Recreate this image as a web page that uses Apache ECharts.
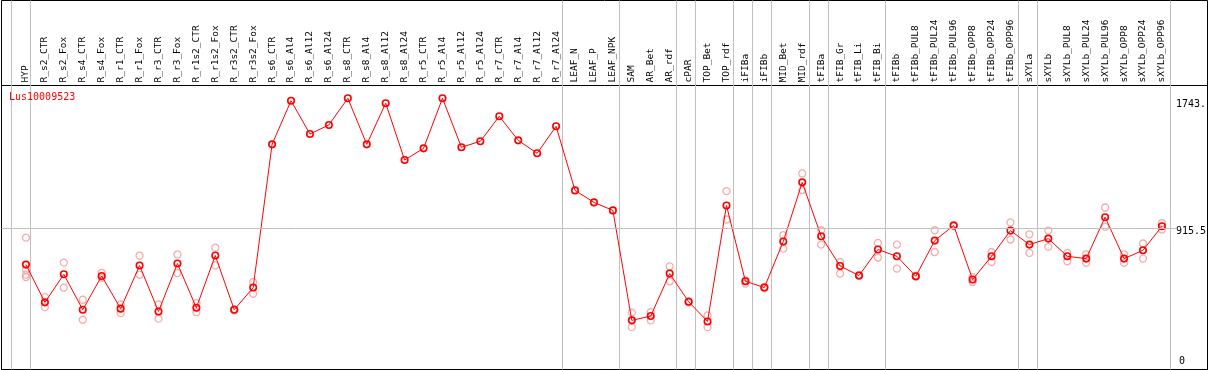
<!DOCTYPE html>
<html>
<head>
<meta charset="utf-8">
<title>Lus10009523</title>
<script src="https://cdn.jsdelivr.net/npm/echarts@6/dist/echarts.min.js"></script>
<style>
html,body{margin:0;padding:0;background:#fff;}
#chart{width:1209px;height:370px;}
</style>
</head>
<body>
<div id="chart"></div>
<script>
var geneName = 'Lus10009523';

var categories = ['HYP','R_s2_CTR','R_s2_Fox','R_s4_CTR','R_s4_Fox','R_r1_CTR','R_r1_Fox','R_r3_CTR','R_r3_Fox',
    'R_r1s2_CTR','R_r1s2_Fox','R_r3s2_CTR','R_r3s2_Fox','R_s6_CTR','R_s6_Al4','R_s6_Al12','R_s6_Al24',
    'R_s8_CTR','R_s8_Al4','R_s8_Al12','R_s8_Al24','R_r5_CTR','R_r5_Al4','R_r5_Al12','R_r5_Al24',
    'R_r7_CTR','R_r7_Al4','R_r7_Al12','R_r7_Al24','LEAF_N','LEAF_P','LEAF_NPK','SAM','AR_Bet','AR_rdf',
    'cPAR','TOP_Bet','TOP_rdf','iFIBa','iFIBb','MID_Bet','MID_rdf','tFIBa','tFIB_Gr','tFIB_Li','tFIB_Bi',
    'tFIBb','tFIBb_PUL8','tFIBb_PUL24','tFIBb_PUL96','tFIBb_OPP8','tFIBb_OPP24','tFIBb_OPP96',
    'sXYLa','sXYLb','sXYLb_PUL8','sXYLb_PUL24','sXYLb_PUL96','sXYLb_OPP8','sXYLb_OPP24','sXYLb_OPP96'];

// mean per sample
var meanValues = [681,436,618,388,607,395,675,377,688,
    401,740,388,532,1462,1745,1529,1588,
    1761,1462,1729,1360,1436,1761,1443,1482,
    1644,1488,1404,1579,1163,1085,1033,319,347,623,
    440,312,1065,573,532,831,1215,865,672,610,779,
    735,605,837,935,584,735,902,
    811,850,735,720,989,720,774,930];

// single replicates (light circles)
var replicates = [[856,648,616,600],[470,405],[694,531],[453,323],[628,596],[422,366],[739,615],[422,330],[747,626],
    [431,372],[791,676],[392,384],[567,492],[],[],[],[],
    [],[],[],[],[],[],[],[],
    [],[],[],[],[],[],[],[369,275],[373,319],[670,573],
    [444,436],[351,275],[1158,974],[579,558],[536,528],[872,785],[1273,1165],[904,811],[698,623],[614,606],[822,727],
    [811,655],[609,601],[904,763],[939,931],[600,568],[763,698],[955,844],
    [878,757],[902,796],[757,703],[748,692],[1052,926],[748,692],[818,720],[909,951]];

// last sample index of each group (-1 = line before first sample)
var groupEnds = [-1,0,28,31,34,35,37,38,39,41,42,45,52,53,60];

var yTicks = [1743, 915.5];
var yTickLabels = ['1743.', '915.5'];
var zeroTicks = [0];
var zeroLabels = ['0'];
var midValue = 915.5;
var yMax = 1844;

var mono = 'DejaVu Sans Mono';

// layout
var headH = 85.5;
var x0 = 26, step = 19;
var frameL = 1.5, frameR = 1207.5;
var plotL = x0 - step / 2;
var plotW = step * categories.length;
var midEnd = 1177;
var sepShift = 4.5;

var repData = [];
for (var i = 0; i < replicates.length; i++) {
    for (var j = 0; j < replicates[i].length; j++) {
        repData.push([i, replicates[i][j]]);
    }
}

// 分组竖线 (0..1 全高, null 断开)
var sepData = [];
groupEnds.forEach(function (k) {
    var x = k + sepShift / step;
    sepData.push([x, 0], [x, 1], [x, null]);
});

var myChart = echarts.init(document.getElementById('chart'));
var option = {
    animation: false,
    title: {
        text: geneName,
        left: 9,
        top: 92,
        padding: 0,
        textStyle: {color: '#ff0000', fontFamily: mono, fontSize: 10, fontWeight: 'normal'}
    },
    grid: [
        {left: frameL, top: 0.5, width: frameR - frameL, bottom: 0.5, show: true, borderColor: '#000', borderWidth: 1},
        {left: frameL, top: headH, width: frameR - frameL, bottom: 0.5, show: true, borderColor: '#000', borderWidth: 1},
        {left: frameL, top: headH, width: midEnd - frameL, bottom: 0.5},
        {left: plotL, top: headH, width: plotW, bottom: 0.5}
    ],
    xAxis: [
        {type: 'value', gridIndex: 0, min: (frameL - x0) / step, max: (frameR - x0) / step, show: false},
        {type: 'value', gridIndex: 1, min: 0, max: 1, show: false},
        {type: 'value', gridIndex: 2, min: 0, max: 1, show: false},
        {
            type: 'category',
            gridIndex: 3,
            position: 'top',
            data: categories,
            boundaryGap: true,
            axisLine: {show: false},
            axisTick: {show: false},
            splitLine: {show: false},
            axisLabel: {interval: 0, rotate: 90, margin: 3, fontFamily: mono, fontSize: 9.5, color: '#000'}
        }
    ],
    yAxis: [
        {type: 'value', gridIndex: 0, min: 0, max: 1, show: false},
        {type: 'value', gridIndex: 1, min: 0, max: 1, show: false},
        {
            type: 'value', gridIndex: 2, min: 0, max: yMax, position: 'right',
            axisLine: {show: false}, axisTick: {show: false}, splitLine: {show: false},
            axisLabel: {
                customValues: zeroTicks,
                formatter: function (v) { return zeroLabels[zeroTicks.indexOf(v)]; },
                margin: 2, align: 'left', verticalAlign: 'bottom', padding: [0, 0, 3, 0],
                fontFamily: mono, fontSize: 10, color: '#000'
            }
        },
        {
            type: 'value', gridIndex: 3, min: 0, max: yMax, position: 'right',
            axisLine: {show: false}, axisTick: {show: false}, splitLine: {show: false},
            axisLabel: {
                customValues: yTicks,
                formatter: function (v) { return yTickLabels[yTicks.indexOf(v)]; },
                margin: 4.5, align: 'left', verticalAlign: 'top', lineHeight: 6,
                fontFamily: mono, fontSize: 10, color: '#000'
            }
        }
    ],
    series: [
        {
            type: 'line', xAxisIndex: 0, yAxisIndex: 0, data: sepData,
            symbol: 'none', silent: true, connectNulls: false, z: 1,
            lineStyle: {color: '#c0c0c0', width: 1}
        },
        {
            type: 'line', xAxisIndex: 2, yAxisIndex: 2, data: [],
            markLine: {
                silent: true, symbol: 'none', label: {show: false},
                lineStyle: {color: '#c0c0c0', width: 1, type: 'solid'},
                data: [{yAxis: midValue}]
            }
        },
        {
            type: 'scatter', xAxisIndex: 3, yAxisIndex: 3, data: repData,
            symbol: 'circle', symbolSize: 7, silent: true, z: 3,
            itemStyle: {color: 'rgba(0,0,0,0)', borderColor: '#f09a9a', borderWidth: 1.3}
        },
        {
            type: 'line', xAxisIndex: 3, yAxisIndex: 3, data: meanValues,
            symbol: 'circle', symbolSize: 6.5, showAllSymbol: true, silent: true, z: 4,
            lineStyle: {color: '#ff0000', width: 1},
            itemStyle: {color: 'rgba(0,0,0,0)', borderColor: '#ff0000', borderWidth: 1.6}
        }
    ]
};
myChart.setOption(option);
</script>
</body>
</html>
